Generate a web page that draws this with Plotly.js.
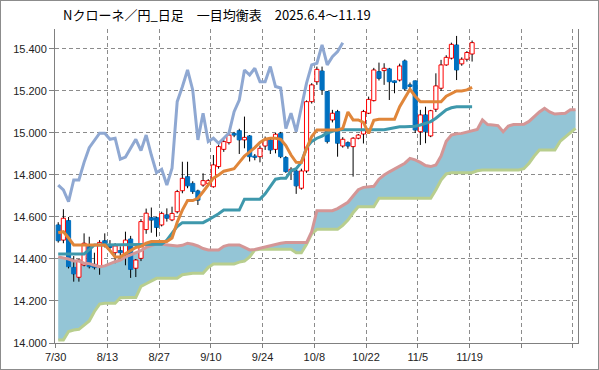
<!DOCTYPE html>
<html>
<head>
<meta charset="utf-8">
<script src="https://cdn.plot.ly/plotly-3.0.1.min.js"></script>
<style>
html,body{margin:0;padding:0;background:#fff;}
#wrap{width:597px;height:368px;border:1px solid #8c8c8c;}
#chart{width:597px;height:368px;}
</style>
</head>
<body>
<div id="wrap"><div id="chart"></div></div>
<script>
// Candles 7/30 .. 11/19 (index 0..80)
const openP = [14.562,14.49,14.583,14.360,14.313,14.371,14.459,14.375,14.363,14.487,
14.462,14.43,14.44,14.42,14.495,14.356,14.403,14.54,14.597,14.597,
14.562,14.610,14.586,14.625,14.725,14.792,14.76,14.724,14.752,14.760,
14.744,14.840,14.922,14.954,14.998,15.011,14.967,14.986,14.89,14.887,
14.938,14.967,14.922,14.998,14.883,14.816,14.819,14.737,14.819,15.149,
15.244,15.295,15.197,15.062,15.102,14.938,14.954,14.935,14.975,14.995,
15.094,15.154,15.292,15.297,15.305,15.248,15.252,15.343,15.229,15.248,
15.006,15.086,14.986,15.113,15.213,15.324,15.356,15.419,15.329,15.351,
15.376];
const highP = [14.575,14.637,14.60,14.414,14.40,14.522,14.506,14.43,14.49,14.522,
14.49,14.475,14.46,14.53,14.51,14.40,14.59,14.64,14.645,14.60,
14.625,14.641,14.649,14.729,14.863,14.863,14.77,14.73,14.808,14.78,
14.895,14.951,14.97,15.0,15.005,15.02,15.078,14.99,14.90,14.94,
14.983,14.975,15.0,15.005,14.89,14.837,14.832,14.83,15.155,15.237,
15.316,15.316,15.20,15.11,15.11,14.98,14.96,14.98,14.995,15.11,
15.173,15.31,15.335,15.332,15.31,15.25,15.33,15.35,15.24,15.25,
15.11,15.125,15.11,15.284,15.348,15.37,15.43,15.462,15.36,15.39,
15.44];
const lowP = [14.478,14.475,14.355,14.292,14.292,14.365,14.355,14.35,14.325,14.455,
14.44,14.38,14.40,14.37,14.31,14.314,14.39,14.52,14.525,14.506,
14.555,14.578,14.58,14.617,14.713,14.737,14.71,14.657,14.744,14.75,
14.74,14.83,14.91,14.945,14.98,14.90,14.927,14.864,14.87,14.86,
14.919,14.90,14.903,14.88,14.81,14.776,14.710,14.73,14.81,15.14,
15.229,15.181,14.95,15.05,14.887,14.93,14.925,14.792,14.97,14.95,
15.09,15.15,15.25,15.229,15.157,15.189,15.245,15.20,15.21,15.0,
14.943,14.951,14.98,15.10,15.20,15.32,15.35,15.252,15.32,15.34,
15.34];
const closeP = [14.487,14.594,14.363,14.329,14.395,14.475,14.363,14.359,14.479,14.463,
14.455,14.462,14.43,14.49,14.35,14.395,14.578,14.618,14.585,14.55,
14.617,14.594,14.617,14.721,14.784,14.748,14.721,14.68,14.773,14.773,
14.848,14.935,14.959,14.990,14.990,14.967,14.979,14.887,14.884,14.927,
14.967,14.919,14.994,14.887,14.816,14.827,14.748,14.819,15.149,15.229,
15.303,15.205,14.959,15.094,14.951,14.970,14.938,14.975,14.990,15.102,
15.160,15.30,15.260,15.308,15.244,15.240,15.319,15.21,15.221,15.014,
15.086,15.006,15.106,15.224,15.324,15.36,15.422,15.30,15.351,15.383,
15.430];

// Conversion line (tenkan), index 0..80
const tenkan = [14.525,14.53,14.50,14.467,14.467,14.467,14.467,14.467,14.467,14.467,
14.44,14.41,14.41,14.425,14.44,14.455,14.46,14.475,14.483,14.483,
14.483,14.483,14.50,14.575,14.633,14.678,14.678,14.689,14.72,14.755,
14.785,14.80,14.818,14.824,14.83,14.86,14.89,14.91,14.93,14.955,
14.97,14.975,14.975,14.97,14.94,14.895,14.86,14.859,14.927,14.983,
15.014,15.014,15.014,15.014,15.014,15.022,15.10,15.062,15.062,15.05,
14.998,15.06,15.065,15.065,15.065,15.065,15.125,15.165,15.208,15.175,
15.149,15.149,15.149,15.149,15.149,15.175,15.189,15.2,15.2,15.205,
15.217];

// Base line (kijun), index 0..80
const kijun = [14.424,14.424,14.424,14.424,14.424,14.424,14.445,14.467,14.467,14.467,
14.467,14.467,14.467,14.467,14.467,14.467,14.467,14.467,14.467,14.467,
14.47,14.49,14.52,14.555,14.573,14.573,14.573,14.573,14.573,14.586,
14.60,14.615,14.633,14.633,14.633,14.633,14.685,14.685,14.685,14.685,
14.71,14.745,14.78,14.784,14.784,14.82,14.83,14.86,14.93,14.96,
14.975,14.985,15.0,15.008,15.015,15.015,15.015,15.015,15.015,15.015,
15.015,15.015,15.015,15.015,15.02,15.025,15.03,15.03,15.03,15.032,
15.038,15.045,15.054,15.07,15.09,15.11,15.12,15.125,15.125,15.125,
15.125];

// Lagging span (chikou), index 0..55
const chikou = [14.752,14.729,14.673,14.776,14.776,14.86,14.93,14.965,14.999,14.999,
14.970,14.975,14.875,14.885,14.93,14.970,14.916,14.990,14.895,14.811,
14.827,14.752,14.832,15.149,15.22,15.300,15.205,14.967,15.094,14.959,
14.975,14.951,14.975,14.999,15.101,15.157,15.300,15.276,15.308,15.244,
15.244,15.316,15.221,15.214,15.021,15.094,15.006,15.12,15.237,15.324,
15.332,15.419,15.324,15.363,15.387,15.43];

// Leading span A (senkou A), index 0..100
const senkouA = [14.41,14.405,14.40,14.39,14.39,14.38,14.378,14.37,14.363,14.367,
14.378,14.387,14.395,14.41,14.42,14.43,14.44,14.455,14.465,14.472,
14.47,14.467,14.465,14.462,14.465,14.475,14.47,14.462,14.45,14.443,
14.443,14.443,14.46,14.467,14.467,14.467,14.455,14.443,14.445,14.451,
14.458,14.465,14.47,14.475,14.478,14.478,14.478,14.478,14.478,14.53,
14.63,14.63,14.63,14.63,14.64,14.655,14.67,14.70,14.73,14.741,
14.744,14.746,14.78,14.80,14.815,14.828,14.84,14.856,14.879,14.872,
14.86,14.845,14.84,14.848,14.89,14.96,14.99,14.996,14.998,15.004,
15.01,15.017,15.062,15.04,15.038,15.035,15.006,15.033,15.04,15.041,
15.041,15.055,15.078,15.10,15.117,15.10,15.09,15.092,15.094,15.11,
15.11];

// Leading span B (senkou B), index 0..100
const senkouB = [14.014,14.014,14.055,14.062,14.065,14.085,14.105,14.15,14.185,14.189,
14.189,14.189,14.215,14.217,14.217,14.217,14.27,14.282,14.295,14.308,
14.308,14.308,14.308,14.308,14.325,14.329,14.332,14.332,14.332,14.36,
14.376,14.376,14.376,14.376,14.376,14.385,14.39,14.41,14.443,14.446,
14.446,14.446,14.446,14.446,14.446,14.446,14.43,14.43,14.47,14.52,
14.541,14.541,14.541,14.541,14.541,14.56,14.585,14.62,14.649,14.649,
14.649,14.649,14.689,14.689,14.689,14.689,14.689,14.689,14.689,14.689,
14.689,14.689,14.689,14.73,14.776,14.805,14.811,14.811,14.811,14.811,
14.811,14.82,14.824,14.824,14.824,14.824,14.824,14.824,14.824,14.824,
14.83,14.856,14.89,14.919,14.919,14.919,14.919,14.96,14.98,15.00,
15.022];

const xTickLabels = ['7/30','8/13','8/27','9/10','9/24','10/8','10/22','11/5','11/19','',''];
const yTickVals = [14.0,14.2,14.4,14.6,14.8,15.0,15.2,15.4];

const titleText = 'Nクローネ／円_日足　一目均衡表　2025.6.4～11.19';

const C_UP_LINE = '#ff0000', C_UP_FILL = '#ffffff', C_DN = '#0070c0';

function seq(n){ const a=[]; for(let i=0;i<n;i++) a.push(i); return a; }

const nC = closeP.length;
const xc = seq(nC);

// wicks: upper (high -> body top) and lower (body bottom -> low) segments
const wx=[], wy=[];
for(let i=0;i<nC;i++){
  const lo=Math.min(openP[i],closeP[i]), hi=Math.max(openP[i],closeP[i]);
  if(highP[i]>hi){ wx.push(i,i,null); wy.push(hi,highP[i],null); }
  if(lowP[i]<lo){ wx.push(i,i,null); wy.push(lowP[i],lo,null); }
}

// bodies
const bBase=[], bH=[], bFill=[], bLine=[];
for(let i=0;i<nC;i++){
  const lo=Math.min(openP[i],closeP[i]), hi=Math.max(openP[i],closeP[i]);
  bBase.push(lo); bH.push(Math.max(hi-lo,0.003));
  const up = closeP[i]>=openP[i];
  bFill.push(up?C_UP_FILL:C_DN); bLine.push(up?C_UP_LINE:C_DN);
}

// cloud polygon path from the two leading spans
const nS = senkouA.length;
let path = '';
for(let i=0;i<nS;i++) path += (i===0?'M ':' L ') + i + ',' + senkouA[i];
for(let i=nS-1;i>=0;i--) path += ' L ' + i + ',' + senkouB[i];
path += ' Z';

const traces = [
  {type:'bar', x:xc, base:bBase, y:bH, width:0.8,
   marker:{color:bFill, line:{color:bLine, width:1}}, showlegend:false, hoverinfo:'skip'},
  {type:'scatter', mode:'lines', x:wx, y:wy, line:{color:'#000', width:1}, hoverinfo:'skip', showlegend:false},
  {type:'scatter', mode:'lines', x:seq(nS), y:senkouB, line:{color:'rgb(184,206,142)', width:3}, showlegend:false},
  {type:'scatter', mode:'lines', x:seq(nS), y:senkouA, line:{color:'rgb(212,150,150)', width:3}, showlegend:false},
  {type:'scatter', mode:'lines', x:seq(kijun.length), y:kijun, line:{color:'rgb(62,152,172)', width:3}, showlegend:false},
  {type:'scatter', mode:'lines', x:seq(tenkan.length), y:tenkan, line:{color:'rgb(224,134,58)', width:3}, showlegend:false},
  {type:'scatter', mode:'lines', x:seq(chikou.length), y:chikou, line:{color:'rgb(143,168,210)', width:3}, showlegend:false}
];

const tickFont = {family:'Liberation Sans, Arial, sans-serif', size:11, color:'#222'};
const gridCol = '#8c8c8c';

const layout = {
  width:597, height:368,
  margin:{l:54, r:20, t:28, b:26, pad:0},
  paper_bgcolor:'#fff', plot_bgcolor:'#fff',
  barmode:'overlay', bargap:0,
  showlegend:false,
  title:{text:titleText, font:{family:'Noto Sans CJK JP, sans-serif', size:13, color:'#000'},
         x:62/597, xref:'container', xanchor:'left', y:1-14/368, yref:'container', yanchor:'middle'},
  xaxis:{type:'linear', range:[-0.62,100.47], tickmode:'array',
         tickvals:xTickLabels.map((_,k)=>k*10-0.5), ticktext:xTickLabels,
         showgrid:true, gridcolor:gridCol, gridwidth:1, griddash:'4px,3px',
         zeroline:false, showline:true, linecolor:'#808080', linewidth:1,
         ticks:'outside', ticklen:4, tickcolor:'#808080', tickfont:tickFont, fixedrange:true},
  yaxis:{type:'linear', range:[14.0,15.495], tickmode:'array', tickvals:yTickVals,
         ticktext:yTickVals.map(v=>v.toFixed(3)),
         showgrid:true, gridcolor:gridCol, gridwidth:1, griddash:'4px,3px',
         zeroline:false, showline:true, mirror:true, linecolor:'#808080', linewidth:1,
         ticks:'outside', ticklen:5, tickcolor:'#808080', tickfont:tickFont, fixedrange:true},
  shapes:[{type:'path', xref:'x', yref:'y', path:path, layer:'between',
           fillcolor:'rgb(148,197,214)', line:{width:0}}]
};

Plotly.newPlot('chart', traces, layout, {staticPlot:true, displayModeBar:false});
</script>
</body>
</html>
